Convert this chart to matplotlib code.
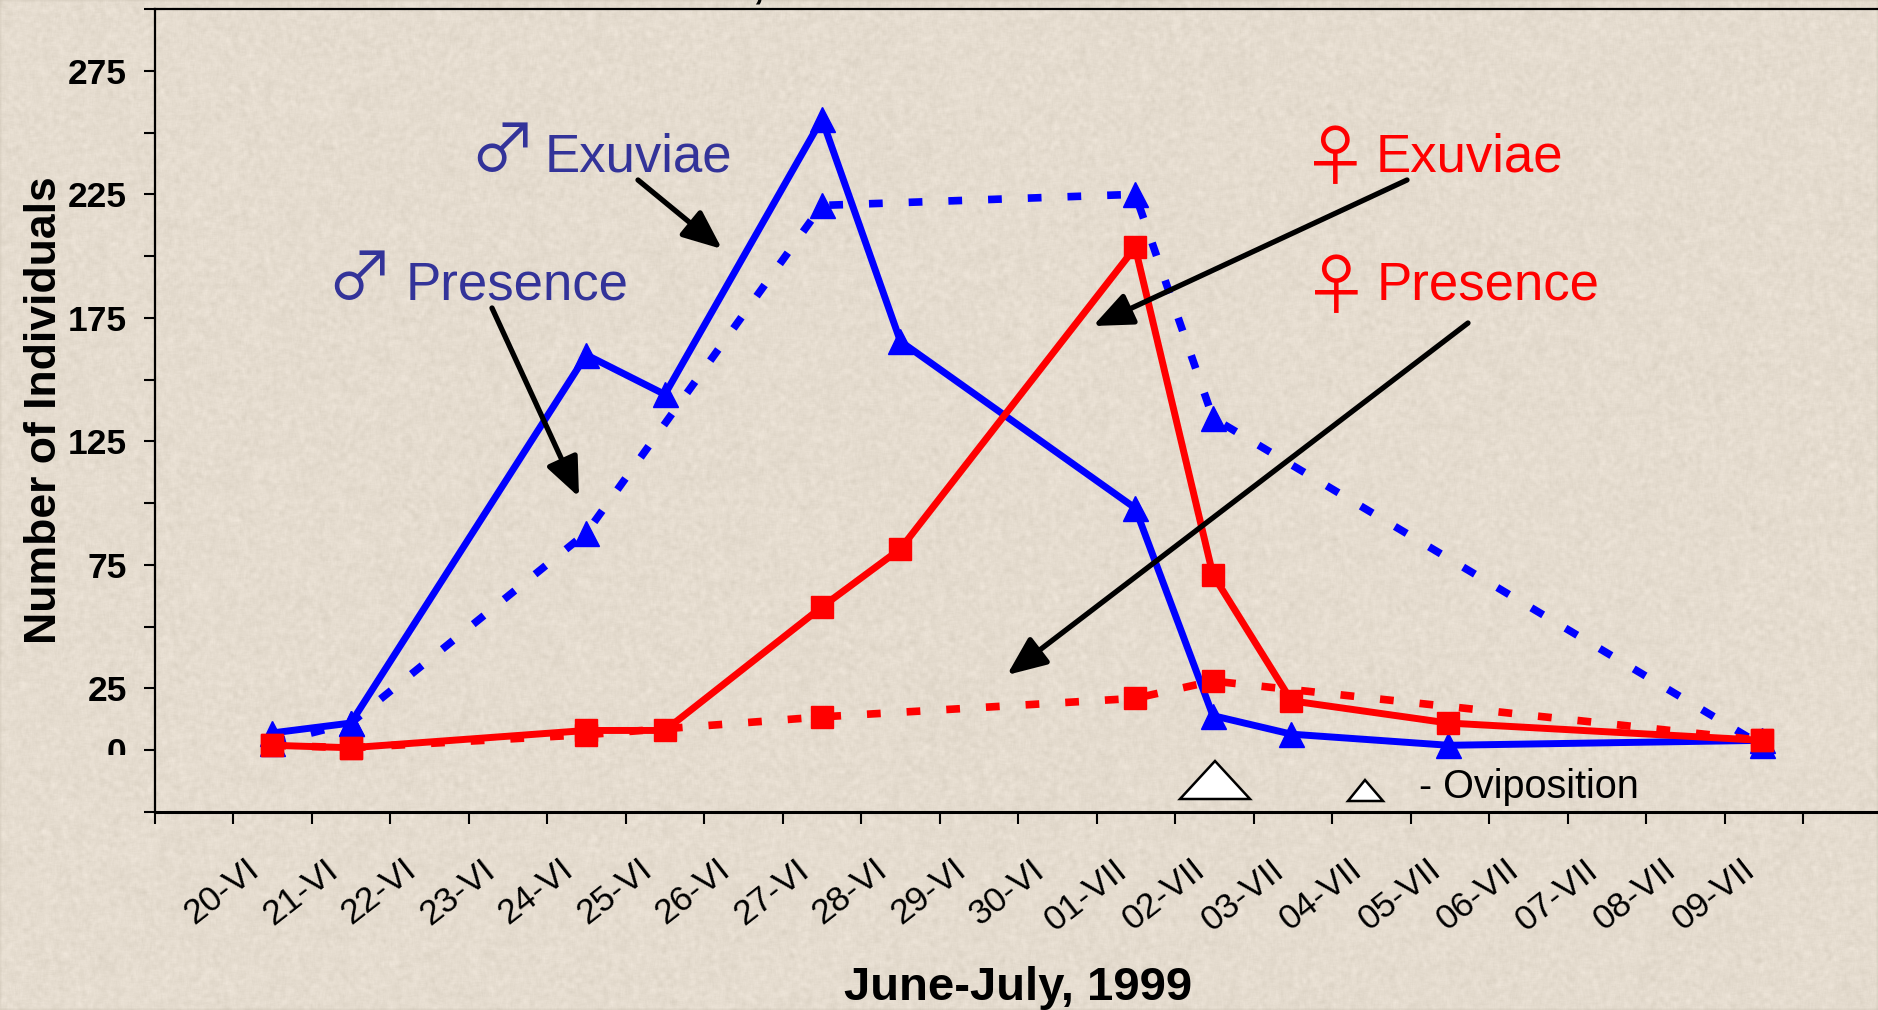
import numpy as np
import matplotlib
matplotlib.use("Agg")
import matplotlib.pyplot as plt
from matplotlib.patches import Polygon
from matplotlib.transforms import Bbox, ScaledTranslation

plt.rcParams["font.family"] = ["Liberation Sans", "DejaVu Sans"]

# values
day_labels = ["20-VI", "21-VI", "22-VI", "23-VI", "24-VI", "25-VI", "26-VI", "27-VI", "28-VI", "29-VI",
              "30-VI", "01-VII", "02-VII", "03-VII", "04-VII", "05-VII", "06-VII", "07-VII", "08-VII", "09-VII"]

exuviae_x = [1.5, 2.5, 5.5, 6.5, 8.5, 9.5, 12.49, 13.48, 14.48, 16.48, 20.47]
male_exuviae = [7, 11, 160, 144, 255.5, 165.5, 98, 14, 6.5, 2, 4]
female_exuviae = [2, 1, 8, 8, 58, 81.5, 203.5, 71, 20, 11, 4]

presence_x = [1.5, 2.5, 5.5, 8.5, 12.49, 13.48, 20.47]
male_presence = [3, 11, 88, 220.5, 225, 134.5, 2]
female_presence = [2, 1, 6.3, 13.5, 21, 28, 4]

y_ticks = list(range(-25, 301, 25))
y_labelled = [0, 25, 75, 125, 175, 225, 275]

W, H = 1878, 1010
BLUE = "#0000ff"
RED = "#ff0000"
TEXT_BLUE = "#333399"


def paper_texture():
    # speckled paper, from a sine hash so the picture stays the same every run
    yy, xx = np.mgrid[0:H, 0:W]
    noise = np.sin(xx * 12.9898 + yy * 78.233) * 43758.5453
    noise = noise - np.floor(noise)
    kernel = np.ones(5) / 5
    soft = np.apply_along_axis(lambda r: np.convolve(r, kernel, mode="same"), 1, noise)
    soft = np.apply_along_axis(lambda c: np.convolve(c, kernel, mode="same"), 0, soft)
    soft = (soft - 0.5) * 45
    base = np.array([229, 220, 207], dtype=float)
    tex = base[None, None, :] + soft[:, :, None] * np.array([1.0, 1.0, 1.1])
    return np.clip(tex, 0, 255) / 255


def px(x, y):
    # pixel position in the reference -> figure fraction
    return x / W, 1 - y / H


fig = plt.figure(figsize=(W / 100, H / 100), dpi=100)
fig.figimage(paper_texture(), zorder=-5)

ax = fig.add_axes([154.5 / W, 1 - 812 / H, 1 - 154.5 / W, (812 - 9) / H])
ax.patch.set_visible(False)

dots = (0, (1.8, 3.4))
ax.plot(presence_x, male_presence, color=BLUE, lw=5.5, ls=dots, marker="^", ms=18, dash_capstyle="butt", clip_on=False)
ax.plot(exuviae_x, male_exuviae, color=BLUE, lw=5, marker="^", ms=18, clip_on=False)
ax.plot(presence_x, female_presence, color=RED, lw=5.5, ls=dots, marker="s", ms=16.5, dash_capstyle="butt", clip_on=False)
ax.plot(exuviae_x, female_exuviae, color=RED, lw=5, marker="s", ms=16.5, clip_on=False)

ax.set_xlim(0, 21.95)
ax.set_ylim(-25, 300)

ax.spines["right"].set_visible(False)
ax.spines["left"].set_linewidth(1.6)
ax.spines["top"].set_linewidth(1.6)
ax.spines["bottom"].set_linewidth(2.2)

ax.set_yticks(y_ticks)
ax.set_yticklabels([str(v) if v in y_labelled else "" for v in y_ticks], fontweight="bold", fontsize=25.5)
ax.tick_params(axis="y", length=8, width=1.5, pad=12)

ax.set_xticks(range(0, 22))
ax.set_xticklabels([""] + day_labels + [""], rotation=38, ha="center", va="top", fontsize=25.5)
ax.tick_params(axis="x", length=8.5, width=1.5, pad=21)
shift = ScaledTranslation(-11 / 100, 0, fig.dpi_scale_trans)
for t in ax.get_xticklabels():
    t.set_transform(t.get_transform() + shift)

# the 0 label is cut off at the bottom in the original
for t in ax.get_yticklabels():
    if t.get_text() == "0":
        t.set_clip_box(Bbox([[0, H - 755], [W, H]]))
        t.set_clip_on(True)

fig.text(*px(1018, 1000), "June-July, 1999", fontweight="bold", fontsize=34, ha="center", va="baseline")
fig.text(*px(56, 410), "Number of Individuals", fontweight="bold", fontsize=32, rotation=90,
         ha="center", va="baseline", rotation_mode="anchor")
# tail of a comma from a line cropped off above the chart
fig.text(*px(758, -2), ",", fontweight="bold", fontsize=30, ha="center", va="baseline")

# series notes
fig.text(*px(545, 172), "Exuviae", color=TEXT_BLUE, fontsize=38, va="baseline")
fig.text(*px(405.5, 299), "Presence", color=TEXT_BLUE, fontsize=38, va="baseline")
fig.text(*px(1376, 172), "Exuviae", color=RED, fontsize=38, va="baseline")
fig.text(*px(1377, 299), "Presence", color=RED, fontsize=38, va="baseline")
sym_font = ["Noto Sans CJK JP", "DejaVu Sans"]
fig.text(*px(503, 153), "♂", color=TEXT_BLUE, fontsize=48, family=sym_font, ha="center", va="center")
fig.text(*px(360, 281), "♂", color=TEXT_BLUE, fontsize=48, family=sym_font, ha="center", va="center")
fig.text(*px(1335, 161), "♀", color=RED, fontsize=48, family=sym_font, ha="center", va="center")
fig.text(*px(1336, 290), "♀", color=RED, fontsize=48, family=sym_font, ha="center", va="center")

arrows = [((638, 180), (722, 249)), ((492, 308), (579, 497)), ((1407, 180), (1093, 326)), ((1468, 323), (1007, 675))]
for start, end in arrows:
    ax.annotate("", xy=px(*end), xytext=px(*start), xycoords="figure fraction", textcoords="figure fraction",
                arrowprops=dict(arrowstyle="-|>,head_length=0.85,head_width=0.36", color="black", lw=3.8,
                                shrinkA=0, shrinkB=0, mutation_scale=28))

# oviposition marks
for pts in ([(1180, 799), (1215, 761), (1250, 799)], [(1348, 801), (1365, 780), (1383, 801)]):
    fig.add_artist(Polygon([px(*p) for p in pts], closed=True, facecolor="white", edgecolor="black", lw=1.8,
                           transform=fig.transFigure))
fig.text(*px(1419, 798), "- Oviposition", fontsize=28.5, va="baseline")

fig.savefig("out.png", dpi=100)
